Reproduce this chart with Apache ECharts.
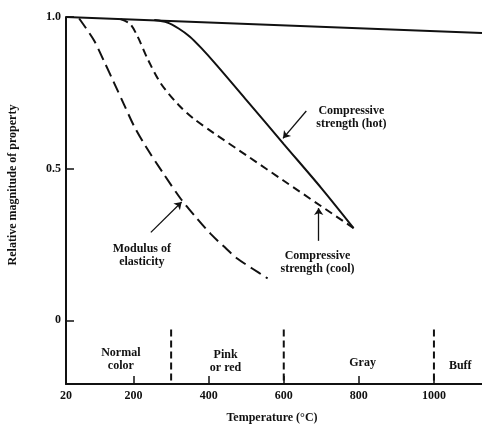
<!DOCTYPE html>
<html><head><meta charset="utf-8">
<script src="https://cdn.jsdelivr.net/npm/echarts@6/dist/echarts.min.js"></script>
<style>html,body{margin:0;padding:0;background:#fff}#c{width:482px;height:428px}</style>
</head><body><div id="c"></div>
<script>
// ---- data ----
const topLineT = [20, 1128];
const topLineV = [1.0, 0.947];
const modulusT = [55, 94, 121, 148, 174, 201, 233, 280, 326, 366, 406, 440, 477, 517, 557];
const modulusV = [0.995, 0.924, 0.855, 0.783, 0.713, 0.641, 0.572, 0.483, 0.400, 0.340, 0.284, 0.244, 0.203, 0.170, 0.138];
const coolT = [165, 190, 211, 238, 273, 320, 360, 414, 504, 600, 700, 786];
const coolV = [0.993, 0.978, 0.935, 0.86, 0.78, 0.71, 0.665, 0.617, 0.541, 0.46, 0.376, 0.304];
const hotT = [255, 290, 320, 350, 380, 420, 500, 600, 700, 786];
const hotV = [0.99, 0.982, 0.962, 0.935, 0.898, 0.843, 0.727, 0.581, 0.436, 0.304];
const zoneBoundaries = [300, 600, 1000];
const zoneNames = ['Normal\ncolor', 'Pink\nor red', 'Gray', 'Buff'];
const xTicks = [200, 400, 600, 800, 1000];
const xTickLabels = [20, 200, 400, 600, 800, 1000];
const yTickLabels = [0, 0.5, 1.0];
const curveNames = ['Compressive\nstrength (hot)', 'Compressive\nstrength (cool)', 'Modulus of\nelasticity'];

const zip = (a, b) => a.map((v, i) => [v, b[i]]);
const FONT = 'Liberation Serif';
const INK = '#111';

const chart = echarts.init(document.getElementById('c'), null, {renderer: 'canvas'});

const series = [
  {type: 'line', data: zip(topLineT, topLineV), symbol: 'none', clip: false,
   lineStyle: {color: INK, width: 2}},
  {type: 'line', data: zip(modulusT, modulusV), smooth: 0.3, symbol: 'none', clip: false,
   lineStyle: {color: INK, width: 2, type: [12, 6]}},
  {type: 'line', data: zip(coolT, coolV), smooth: 0.3, symbol: 'none', clip: false,
   lineStyle: {color: INK, width: 2, type: [8, 5]}},
  {type: 'line', data: zip(hotT, hotV), smooth: 0.3, symbol: 'none', clip: false,
   lineStyle: {color: INK, width: 2},
   markLine: {silent: true, symbol: ['none', 'arrow'], symbolSize: 7, label: {show: false},
     lineStyle: {color: INK, width: 1.3, type: 'solid'},
     data: [
       [{coord: [660, 0.69]}, {coord: [598, 0.60]}],
       [{coord: [693, 0.262]}, {coord: [693, 0.37]}],
       [{coord: [246, 0.29]}, {coord: [328, 0.39]}]
     ]}}
];
zoneBoundaries.forEach(t => {
  series.push({type: 'line', data: [[t, -0.03], [t, -0.21]], symbol: 'none',
    lineStyle: {color: INK, width: 2, type: [7, 4]}});
});

chart.setOption({
  animation: false,
  grid: {left: 66, right: 0, top: 17, bottom: 44},
  xAxis: {type: 'value', min: 20, max: 1128,
    axisLine: {onZero: false, lineStyle: {color: INK, width: 2}},
    axisTick: {customValues: xTicks, inside: true, length: 8, lineStyle: {color: INK, width: 1.5}},
    axisLabel: {customValues: xTickLabels, color: INK, fontFamily: FONT, fontSize: 12, fontWeight: 'bold', margin: 6,
      formatter: v => String(v)},
    splitLine: {show: false}},
  yAxis: {type: 'value', min: -0.21, max: 1.0,
    axisLine: {show: true, onZero: false, lineStyle: {color: INK, width: 2}},
    axisTick: {customValues: yTickLabels, inside: true, length: 8, lineStyle: {color: INK, width: 1.5}},
    axisLabel: {customValues: yTickLabels, color: INK, fontFamily: FONT, fontSize: 12, fontWeight: 'bold', margin: 5,
      formatter: v => v === 0 ? '0' : v.toFixed(1)},
    splitLine: {show: false}},
  series: series
});

function txt(t, v, text) {
  const p = chart.convertToPixel({gridIndex: 0}, [t, v]);
  return {type: 'text', x: p[0], y: p[1],
    style: {text: text, font: 'bold 12px "' + FONT + '"', fill: INK, align: 'center', verticalAlign: 'middle', lineHeight: 13}};
}
const g = [
  txt(780, 0.67, curveNames[0]),
  txt(690, 0.19, curveNames[1]),
  txt(222, 0.215, curveNames[2]),
  txt(166, -0.13, zoneNames[0]),
  txt(445, -0.135, zoneNames[1]),
  txt(810, -0.14, zoneNames[2]),
  txt(1070, -0.15, zoneNames[3]),
  {type: 'text', x: 272, y: 418, style: {text: 'Temperature (°C)', font: 'bold 12px "' + FONT + '"', fill: INK, align: 'center', verticalAlign: 'middle'}},
  {type: 'text', x: 13, y: 185, rotation: Math.PI / 2, style: {text: 'Relative magnitude of property', font: 'bold 12px "' + FONT + '"', fill: INK, align: 'center', verticalAlign: 'middle'}}
];
chart.setOption({graphic: g});
</script></body></html>
